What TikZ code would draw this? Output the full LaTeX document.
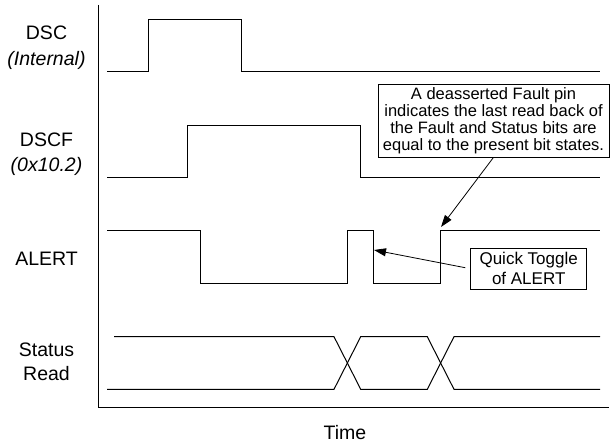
\documentclass[tikz,border=0pt]{standalone}
\usepackage{fontspec}
\setmainfont{Liberation Sans}
\usetikzlibrary{arrows.meta}
\tikzset{
  signal/.style={line width=1pt, line join=miter},
  siglabel/.style={font=\fontsize{19.5}{23}\selectfont, anchor=base, inner sep=0pt},
  note/.style={draw, line width=0.8pt, align=center, inner sep=0pt},
  pointer/.style={line width=0.8pt, -{Triangle[length=12pt,width=8pt]}}
}
\begin{document}
\begin{tikzpicture}[x=1pt, y=-1pt]
  \useasboundingbox (0,0) rectangle (610,443);
  % axes
  \draw[line width=1pt] (98,5) -- (98,407.5) -- (609,407.5);
  \node[siglabel] (timelbl) at (345,439) {Time};
  % signal names
  \node[siglabel] (dsclbl) at (46.5,40) {DSC};
  \node[siglabel] (dscsub) at (46.5,66) {\itshape (Internal)};
  \node[siglabel] (dscflbl) at (46.5,146.7) {DSCF};
  \node[siglabel] (dscfsub) at (46.5,171.7) {\itshape (0x10.2)};
  \node[siglabel] (alertlbl) at (46.5,265.7) {ALERT};
  \node[siglabel] (statuslbl) at (46.5,356.7) {Status};
  \node[siglabel] (readlbl) at (46.5,380) {Read};
  % waveforms
  \draw[signal] (107,71.5) -- (148,71.5) -- (148,20) -- (241,20) -- (241,71.5) -- (600,71.5);
  \draw[signal] (107,177.7) -- (187.7,177.7) -- (187.7,125.3) -- (360.7,125.3) -- (360.7,177.7) -- (600,177.7);
  \draw[signal] (107,230.7) -- (200.7,230.7) -- (200.7,283.3) -- (347.3,283.3) -- (347.3,230.7)
    -- (373.3,230.7) -- (373.3,283.3) -- (440,283.3) -- (440,230.7) -- (600,230.7);
  \draw[signal] (114,336.7) -- (334,336.7) -- (360.7,389.3) -- (427.3,389.3) -- (454,336.7) -- (600,336.7);
  \draw[signal] (107,389.3) -- (334,389.3) -- (360.7,336.7) -- (427.3,336.7) -- (454,389.3) -- (600,389.3);
  \coordinate (alertrise) at (441,227);
  \coordinate (pulsefall) at (374,250);
  % callouts
  \node[note, minimum width=231pt, minimum height=73pt, font=\fontsize{16.5}{17}\selectfont]
    (faultnote) at (493.5,120.5) {A deasserted Fault pin\\indicates the last read back of\\the Fault and Status bits are\\equal to the present bit states.};
  \node[note, minimum width=116pt, minimum height=40.7pt, font=\fontsize{17}{20}\selectfont]
    (togglenote) at (528.7,268.7) {Quick Toggle\\of ALERT};
  \draw[pointer] (faultnote.south) -- (alertrise);
  \draw[pointer, shorten <=5pt] (togglenote.west) -- (pulsefall);
\end{tikzpicture}
\end{document}
